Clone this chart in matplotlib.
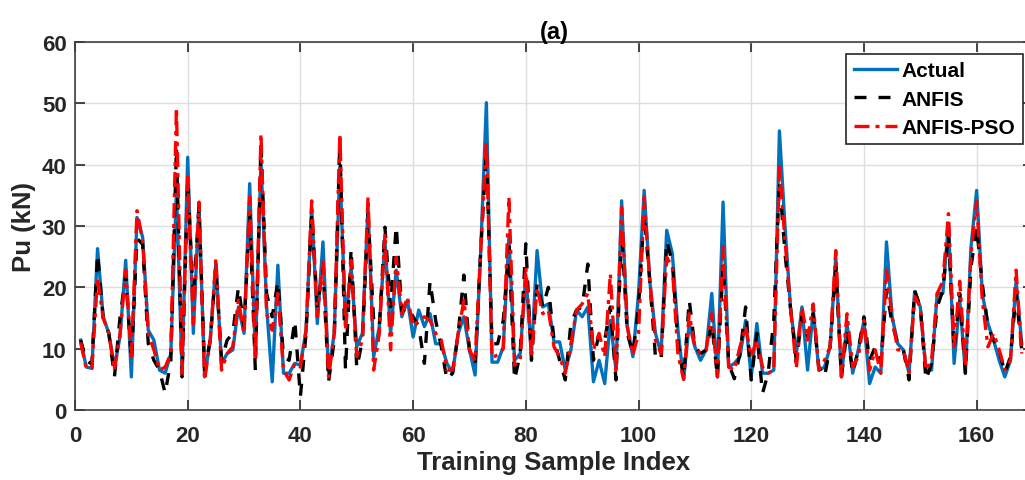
import numpy as np
import matplotlib
matplotlib.use("Agg")
import matplotlib.pyplot as plt

plt.rcParams['font.family'] = ['Liberation Sans', 'DejaVu Sans']
plt.rcParams['font.weight'] = 'bold'

actual = [11.4, 7.0, 6.8, 26.3, 15.2, 12.5, 7.0, 12.0, 24.4, 5.4,
          31.4, 28.2, 13.0, 11.4, 6.5, 6.0, 9.2, 35.8, 6.0, 41.2,
          12.5, 33.6, 5.4, 11.4, 24.0, 7.6, 9.2, 9.8, 16.8, 12.5,
          36.9, 8.7, 40.7, 16.8, 4.6, 23.6, 6.0, 6.0, 7.6, 7.3,
          13.0, 33.0, 14.1, 27.4, 6.0, 12.5, 39.6, 14.1, 23.3, 10.3,
          12.5, 33.0, 8.7, 13.6, 27.6, 12.5, 22.8, 15.2, 17.9, 11.9,
          16.3, 13.6, 15.7, 10.8, 10.8, 7.6, 6.0, 12.5, 15.2, 9.8,
          5.7, 26.0, 50.1, 7.8, 7.8, 10.3, 28.2, 8.1, 9.2, 22.0,
          9.2, 26.0, 16.8, 17.3, 11.1, 11.1, 6.5, 9.8, 16.3, 15.2,
          16.8, 4.6, 8.1, 4.3, 14.6, 6.5, 34.1, 13.6, 8.7, 19.0,
          35.8, 21.0, 12.5, 9.2, 29.3, 25.5, 13.0, 5.0, 14.1, 10.3,
          8.1, 9.8, 19.0, 5.4, 33.9, 7.0, 7.6, 8.7, 14.6, 5.4,
          14.1, 6.0, 6.0, 6.5, 45.5, 29.8, 16.3, 9.2, 16.8, 6.5,
          16.3, 6.5, 7.0, 10.3, 24.9, 5.4, 14.1, 6.0, 9.8, 14.6,
          4.3, 7.0, 6.0, 27.4, 15.2, 10.8, 9.8, 6.0, 19.3, 16.8,
          6.5, 6.5, 19.0, 19.0, 30.4, 7.6, 17.9, 6.0, 26.6, 35.8,
          19.0, 14.1, 11.4, 8.1, 5.4, 8.1, 21.1, 10.8]

anfis = [11.4, 8.0, 7.5, 25.5, 15.0, 12.5, 5.4, 15.2, 22.0, 8.0,
         28.0, 27.0, 10.8, 8.1, 6.5, 2.7, 8.0, 42.8, 5.4, 37.4,
         18.0, 33.0, 6.5, 11.4, 23.3, 8.1, 11.4, 12.5, 20.0, 13.6,
         32.0, 6.5, 43.4, 19.0, 15.2, 21.0, 8.7, 8.1, 14.6, 2.2,
         12.5, 32.0, 16.8, 23.3, 4.6, 11.4, 43.9, 6.5, 26.3, 6.8,
         11.4, 32.0, 14.6, 13.6, 29.8, 16.8, 30.0, 16.0, 16.8, 15.2,
         13.6, 7.6, 21.0, 14.6, 10.3, 4.9, 6.0, 12.5, 22.0, 9.8,
         7.6, 26.0, 42.3, 10.8, 10.8, 14.6, 26.6, 4.9, 9.2, 27.1,
         8.1, 20.6, 16.8, 20.0, 11.5, 8.1, 4.9, 14.1, 16.3, 16.8,
         23.8, 8.1, 12.5, 11.4, 16.8, 4.9, 29.3, 12.5, 9.2, 16.8,
         32.0, 21.0, 8.7, 8.1, 27.6, 24.0, 11.0, 5.2, 17.9, 10.3,
         9.2, 9.8, 14.1, 5.4, 23.8, 7.5, 5.1, 9.2, 16.8, 4.9,
         12.5, 2.7, 6.0, 14.6, 37.4, 25.5, 16.3, 8.0, 15.2, 12.0,
         15.7, 7.0, 5.4, 10.3, 23.3, 5.4, 13.0, 6.0, 9.8, 15.2,
         8.1, 10.3, 7.6, 19.5, 14.1, 10.8, 9.8, 4.9, 19.5, 16.8,
         4.9, 7.6, 16.8, 19.5, 28.7, 9.8, 19.0, 6.0, 23.3, 29.8,
         20.6, 13.6, 11.4, 9.8, 6.0, 8.7, 19.0, 9.8]

anfis_pso = [11.0, 6.8, 6.8, 21.5, 15.0, 12.5, 6.5, 12.5, 22.8, 8.7,
             32.5, 27.6, 12.5, 9.8, 6.5, 7.0, 9.2, 49.3, 6.0, 38.0,
             14.0, 33.9, 4.9, 11.4, 24.7, 6.5, 9.2, 10.3, 17.9, 12.5,
             34.7, 8.1, 45.0, 15.7, 13.0, 19.0, 6.5, 4.9, 7.6, 7.0,
             13.0, 34.1, 15.2, 24.4, 5.4, 12.5, 45.0, 13.0, 24.4, 8.7,
             11.4, 34.7, 6.5, 12.5, 28.7, 9.8, 24.9, 15.7, 18.4, 13.6,
             14.6, 15.2, 14.6, 12.5, 11.4, 6.5, 6.5, 12.5, 17.9, 9.8,
             8.0, 26.0, 43.9, 8.5, 9.0, 10.0, 34.7, 7.3, 8.1, 23.3,
             8.5, 20.0, 15.7, 16.3, 10.3, 8.7, 6.0, 10.8, 16.3, 17.3,
             19.0, 9.8, 12.5, 8.7, 22.2, 6.0, 33.0, 13.6, 9.0, 12.5,
             34.7, 21.0, 11.4, 9.2, 24.9, 23.3, 9.0, 5.0, 15.7, 10.3,
             9.2, 9.8, 15.7, 5.4, 26.6, 7.0, 6.5, 10.3, 13.6, 8.7,
             11.4, 7.0, 6.0, 6.5, 39.6, 27.6, 16.3, 6.8, 16.8, 11.4,
             17.3, 6.5, 8.1, 10.3, 26.0, 5.4, 15.7, 7.0, 8.7, 14.6,
             6.5, 9.8, 6.0, 22.8, 15.2, 9.8, 9.8, 6.0, 18.5, 16.8,
             6.5, 8.1, 19.0, 21.0, 32.0, 10.3, 21.0, 7.0, 25.5, 34.1,
             17.9, 10.3, 12.5, 9.8, 6.5, 8.1, 22.8, 9.2]

idx = np.arange(1, len(actual) + 1)

W, H = 1025, 481
fig = plt.figure(figsize=(W / 100, H / 100), dpi=100)
ax = fig.add_axes([75 / W, (H - 411) / H, (1033 - 75) / W, (411 - 43) / H])

dark = '#262626'
ax.plot(idx, actual, color='#0072BD', lw=2.4, label='Actual')
ax.plot(idx, anfis, color='black', lw=2.4, ls=(0, (3.6, 3.6)), label='ANFIS')
ax.plot(idx, anfis_pso, color='red', lw=2.4, ls=(0, (4.5, 1.8, 1.2, 1.8)), label='ANFIS-PSO')

ax.set_xlim(0, 170)
ax.set_ylim(0, 60)
ax.set_xticks(np.arange(0, 161, 20))
ax.set_yticks(np.arange(0, 61, 10))
ax.grid(True, color='#dedede', lw=1.0)
ax.set_axisbelow(True)
ax.tick_params(direction='in', length=7, width=1.2, labelsize=16, top=True, right=True,
               colors=dark)
ax.tick_params(axis='x', pad=11)
ax.tick_params(axis='y', pad=6)
for lbl in ax.get_xticklabels() + ax.get_yticklabels():
    lbl.set_fontweight('bold')
for s in ax.spines.values():
    s.set_color('#404040')
    s.set_linewidth(1.2)

ax.set_title('(a)', fontsize=17, fontweight='bold', pad=3, color='black')
ax.set_xlabel('Training Sample Index', fontsize=18.5, fontweight='bold', labelpad=3, color=dark)
ax.set_ylabel('Pu (kN)', fontsize=18.5, fontweight='bold', labelpad=4, color=dark)

leg = ax.legend(loc='upper right', bbox_to_anchor=(1022.7 / W, 1 - 55 / H),
                bbox_transform=fig.transFigure, borderaxespad=0, fontsize=15,
                frameon=True, fancybox=False, edgecolor='#262626', framealpha=1,
                handlelength=2.1, borderpad=0.35, labelspacing=0.45, handletextpad=0.2)
leg.get_frame().set_linewidth(1.2)
for t in leg.get_texts():
    t.set_fontweight('bold')

fig.savefig('out.png', dpi=100)
